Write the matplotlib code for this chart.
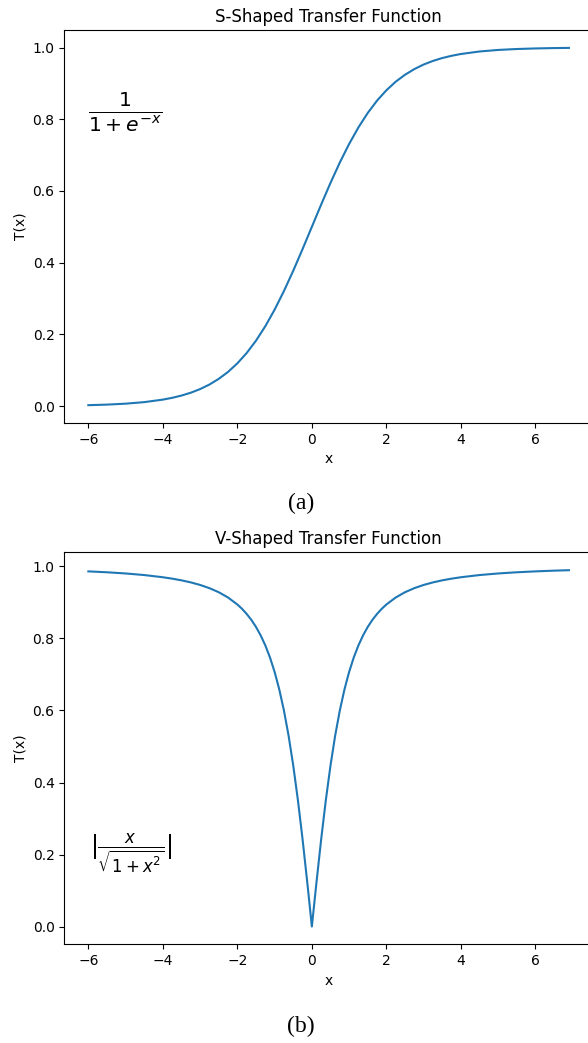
# S 型和 V 型传递函数曲线
import matplotlib.pyplot as plt

# S 型曲线 (从图中读取的点)
x_s = [-6.0, -5.5, -5.0, -4.5, -4.0, -3.75, -3.5, -3.25, -3.0, -2.75, -2.5, -2.25, -2.0, -1.75,
       -1.5, -1.25, -1.0, -0.75, -0.5, -0.25, 0.0, 0.25, 0.5, 0.75, 1.0, 1.25, 1.5, 1.75, 2.0,
       2.25, 2.5, 2.75, 3.0, 3.25, 3.5, 3.75, 4.0, 4.5, 5.0, 5.5, 6.0, 6.5, 6.9]
t_s = [0.0025, 0.0041, 0.0067, 0.0110, 0.0180, 0.0230, 0.0293, 0.0373, 0.0474, 0.0601, 0.0759,
       0.0953, 0.1192, 0.1480, 0.1824, 0.2227, 0.2689, 0.3208, 0.3775, 0.4378, 0.5000, 0.5622,
       0.6225, 0.6792, 0.7311, 0.7773, 0.8176, 0.8520, 0.8808, 0.9047, 0.9241, 0.9399, 0.9526,
       0.9627, 0.9707, 0.9770, 0.9820, 0.9890, 0.9933, 0.9959, 0.9975, 0.9985, 0.9990]

# V 型曲线 (从图中读取的点)
x_v = [-6.0, -5.5, -5.0, -4.5, -4.0, -3.75, -3.5, -3.25, -3.0, -2.75, -2.5, -2.25, -2.0, -1.875,
       -1.75, -1.625, -1.5, -1.375, -1.25, -1.125, -1.0, -0.875, -0.75, -0.625, -0.5, -0.375,
       -0.25, -0.125, 0.0, 0.125, 0.25, 0.375, 0.5, 0.625, 0.75, 0.875, 1.0, 1.125, 1.25, 1.375,
       1.5, 1.625, 1.75, 1.875, 2.0, 2.25, 2.5, 2.75, 3.0, 3.25, 3.5, 3.75, 4.0, 4.5, 5.0, 5.5,
       6.0, 6.5, 6.9]
t_v = [0.9864, 0.9839, 0.9806, 0.9762, 0.9701, 0.9662, 0.9615, 0.9558, 0.9487, 0.9398, 0.9285,
       0.9138, 0.8944, 0.8824, 0.8682, 0.8517, 0.8321, 0.8087, 0.7809, 0.7474, 0.7071, 0.6585,
       0.6000, 0.5300, 0.4472, 0.3511, 0.2425, 0.1240, 0.0, 0.1240, 0.2425, 0.3511, 0.4472,
       0.5300, 0.6000, 0.6585, 0.7071, 0.7474, 0.7809, 0.8087, 0.8321, 0.8517, 0.8682, 0.8824,
       0.8944, 0.9138, 0.9285, 0.9398, 0.9487, 0.9558, 0.9615, 0.9662, 0.9701, 0.9762, 0.9806,
       0.9839, 0.9864, 0.9884, 0.9897]

fig = plt.figure(figsize=(5.88, 10.43), dpi=100)

# ===================== (a) S 型 =====================
ax1 = fig.add_axes([0.1094, 0.5944, 0.899, 0.3768])
ax1.plot(x_s, t_s)
ax1.set_title('S-Shaped Transfer Function', fontsize=12)
ax1.set_xlabel('x')
ax1.set_ylabel('T(x)')
ax1.text(-6.0, 0.82, r'$\frac{1}{1+e^{-x}}$', fontsize=21, ha='left', va='center')

# ===================== (b) V 型 =====================
ax2 = fig.add_axes([0.1094, 0.0946, 0.899, 0.3758])
ax2.plot(x_v, t_v)
ax2.set_title('V-Shaped Transfer Function', fontsize=12)
ax2.set_xlabel('x')
ax2.set_ylabel('T(x)')
ax2.text(-5.95, 0.204, r'$|\frac{x}{\sqrt{1+x^2}}|$', fontsize=17, ha='left', va='center')

# 子图标题 (a)(b)
fig.text(0.512, 1 - 503 / 1043, '(a)', family='Liberation Serif', fontsize=17, ha='center', va='center')
fig.text(0.512, 1 - 1026 / 1043, '(b)', family='Liberation Serif', fontsize=17, ha='center', va='center')

fig.savefig('out.png', dpi=100)
